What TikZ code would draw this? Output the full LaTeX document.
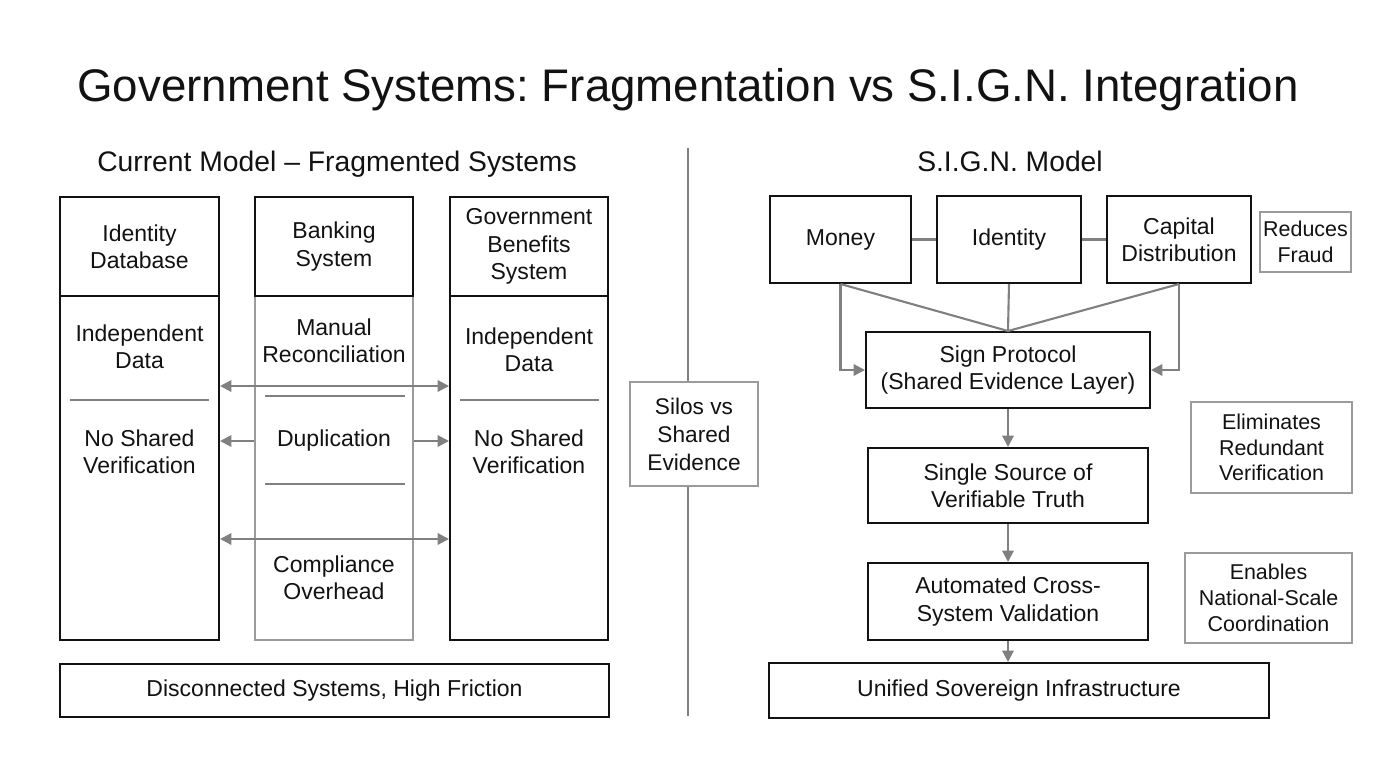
\documentclass[tikz,border=0pt]{standalone}
\usepackage{fontspec}
\setmainfont{Liberation Sans}
\usepackage{xcolor}
\usetikzlibrary{arrows.meta}
\definecolor{tinta}{RGB}{18,18,18}
\definecolor{grislinea}{RGB}{128,128,128}
\definecolor{grisborde}{RGB}{155,155,155}
\frenchspacing

\begin{document}
\begin{tikzpicture}[x=0.02cm, y=-0.02cm, >={Triangle[length=2.3mm,width=2.3mm]},
    caja/.style={draw=tinta, line width=1.15pt, align=center, inner sep=2pt, text=tinta,
        font=\fontsize{13.1}{15.5}\selectfont},
    cajagris/.style={caja, draw=grisborde},
    nota/.style={caja, draw=grisborde, line width=0.85pt, inner sep=1pt,
        font=\fontsize{12.2}{14.7}\selectfont},
    texto/.style={align=center, text=tinta, font=\fontsize{13.1}{15.5}\selectfont},
    conector/.style={grislinea, line width=1.2pt},
    flecha/.style={conector, ->}]
    \useasboundingbox (0,0) rectangle (1376,768);
    % titulo y subtitulos
    \node[anchor=base, text=tinta, font=\fontsize{26}{30}\selectfont] (titulo) at (688,101)
        {Government Systems: Fragmentation vs S.I.G.N. Integration};
    \node[anchor=base, text=tinta, font=\fontsize{16.1}{19}\selectfont] (subizq) at (337,171)
        {Current Model -- Fragmented Systems};
    \node[anchor=base, text=tinta, font=\fontsize{16.1}{19}\selectfont] (subder) at (1010,171)
        {S.I.G.N. Model};
    % separador central
    \coordinate (divsup) at (688,148);
    \coordinate (divinf) at (688,716);
    \node[nota, font=\fontsize{12.9}{15.9}\selectfont, minimum width=2.56cm, minimum height=2.08cm]
        (silos) at (694,434) {Silos vs\\Shared\\Evidence};
    \draw[conector, line width=1pt] (divsup) -- (divsup |- silos.north);
    \draw[conector, line width=1pt] (divinf |- silos.south) -- (divinf);
    % modelo actual: cuerpos de las columnas
    \node[caja, minimum width=3.18cm, minimum height=6.88cm] (idcuerpo) at (139.5,468) {};
    \node[cajagris, minimum width=3.16cm, minimum height=6.88cm] (bancocuerpo) at (334,468) {};
    \node[caja, minimum width=3.16cm, minimum height=6.88cm] (benefcuerpo) at (529,468) {};
    % cabeceras
    \node[caja, minimum width=3.18cm, minimum height=1.98cm] (idcab) at (139.5,246.5) {Identity\\Database};
    \node[caja, minimum width=3.16cm, minimum height=1.98cm] (bancocab) at (334,246.5) {Banking\\System};
    \node[caja, minimum width=3.16cm, minimum height=1.98cm] (benefcab) at (529,246.5) {Government\\Benefits\\System};
    % textos dentro de las columnas
    \node[texto] (iddatos) at (139.5,347) {Independent\\Data};
    \node[texto] (idverif) at (139.5,452) {No Shared\\Verification};
    \node[texto] (concil) at (334,341) {Manual\\Reconciliation};
    \node[texto] (dupl) at (334,441) {Duplication};
    \node[texto] (cumpl) at (334,578) {Compliance\\Overhead};
    \node[texto] (benefdatos) at (529,350) {Independent\\Data};
    \node[texto] (benefverif) at (529,452) {No Shared\\Verification};
    \draw[conector, line width=1pt] (70,400) -- (209,400);
    \draw[conector, line width=1pt] (265,396) -- (405,396);
    \draw[conector, line width=1pt] (265,484) -- (405,484);
    \draw[conector, line width=1pt] (460,400) -- (599,400);
    % flechas entre sistemas
    \coordinate (fila1) at (0,386);
    \coordinate (fila3) at (0,539);
    \draw[flecha, <->] (idcuerpo.east |- fila1) -- (benefcuerpo.west |- fila1);
    \draw[flecha] (bancocuerpo.west |- dupl) -- (idcuerpo.east |- dupl);
    \draw[flecha] (bancocuerpo.east |- dupl) -- (benefcuerpo.west |- dupl);
    \draw[flecha, <->] (idcuerpo.east |- fila3) -- (benefcuerpo.west |- fila3);
    \node[caja, minimum width=10.98cm, minimum height=1.06cm] (friccion) at (334.5,690.5)
        {Disconnected Systems, High Friction};
    % modelo S.I.G.N.
    \node[caja, minimum width=2.82cm, minimum height=1.74cm] (dinero) at (840.5,239.5) {Money};
    \node[caja, minimum width=2.88cm, minimum height=1.74cm] (identidad) at (1009,239.5) {Identity};
    \node[caja, minimum width=2.88cm, minimum height=1.74cm] (capital) at (1179,239.5) {Capital\\Distribution};
    \node[nota, minimum width=1.82cm, minimum height=1.2cm] (fraude) at (1305.5,242) {Reduces\\Fraud};
    \node[caja, minimum width=5.68cm, minimum height=1.52cm] (protocolo) at (1008,370)
        {Sign Protocol\\(Shared Evidence Layer)};
    \node[caja, minimum width=5.62cm, minimum height=1.5cm] (fuente) at (1008,485.5)
        {Single Source of\\Verifiable Truth};
    \node[caja, minimum width=5.62cm, minimum height=1.54cm] (validacion) at (1008,601.5)
        {Automated Cross-\\System Validation};
    \node[caja, minimum width=10cm, minimum height=1.1cm] (soberana) at (1019,690.5)
        {Unified Sovereign Infrastructure};
    \node[nota, minimum width=3.22cm, minimum height=1.82cm] (redundante) at (1271.5,447.5)
        {Eliminates\\Redundant\\Verification};
    \node[nota, minimum width=3.34cm, minimum height=1.8cm] (escala) at (1268.5,598)
        {Enables\\National-Scale\\Coordination};
    % conexiones
    \draw[conector] (dinero) -- (identidad);
    \draw[conector] (identidad) -- (capital);
    \draw[conector] (dinero.south) -- (protocolo.north);
    \draw[conector] (identidad.south) -- (protocolo.north);
    \draw[conector] (capital.south) -- (protocolo.north);
    \draw[flecha] (dinero.south) |- (protocolo.west);
    \draw[flecha] (capital.south) |- (protocolo.east);
    \draw[flecha] (protocolo) -- (fuente);
    \draw[flecha] (fuente) -- (validacion);
    \draw[flecha] (validacion.south) -- (validacion.south |- soberana.north);
\end{tikzpicture}
\end{document}
